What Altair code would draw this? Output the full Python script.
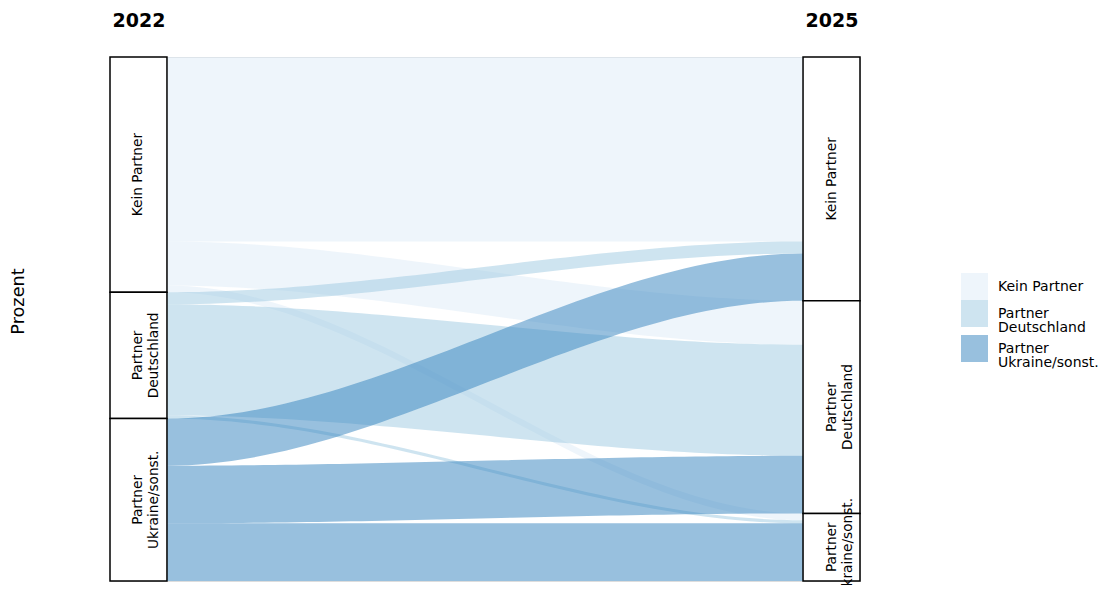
import altair as alt
import numpy as np
import pandas as pd

# ---------------- data ----------------
years = ["2022", "2025"]
categories = ["Kein Partner", "Partner\nDeutschland", "Partner\nUkraine/sonst."]
colors = ["#deebf7", "#9ecae1", "#3182bd"]

# flows (percent of respondents): 2022 group -> 2025 group
flow_src = ["Kein Partner", "Kein Partner", "Kein Partner",
            "Partner\nDeutschland", "Partner\nDeutschland", "Partner\nDeutschland",
            "Partner\nUkraine/sonst.", "Partner\nUkraine/sonst.", "Partner\nUkraine/sonst."]
flow_dst = ["Kein Partner", "Partner\nDeutschland", "Partner\nUkraine/sonst.",
            "Kein Partner", "Partner\nDeutschland", "Partner\nUkraine/sonst.",
            "Kein Partner", "Partner\nDeutschland", "Partner\nUkraine/sonst."]
flow_pct = [35.2, 8.4, 1.3,
            2.3, 21.2, 0.6,
            9.0, 11.0, 11.0]

# ---------------- geometry (alluvial layout) ----------------
w = 0.0411          # half width of a stratum in axis units
N = 60
share = {(s, d): v for s, d, v in zip(flow_src, flow_dst, flow_pct)}

left_pos, right_pos = {}, {}
y = 100.0
for s in categories:
    for d in categories:
        v = share[(s, d)]
        left_pos[(s, d)] = (y, y - v)
        y -= v
y = 100.0
for d in categories:
    for s in categories:
        v = share[(s, d)]
        right_pos[(s, d)] = (y, y - v)
        y -= v

t = np.linspace(0, 1, N)
sm = t * t * (3 - 2 * t)
rows = []
for i, (s, d) in enumerate(zip(flow_src, flow_dst)):
    (lt, lb), (rt, rb) = left_pos[(s, d)], right_pos[(s, d)]
    xs = (1 + w) + t * (1 - 2 * w)
    yt = lt + (rt - lt) * sm
    yb = lb + (rb - lb) * sm
    for xx, a, b in zip(xs, yt, yb):
        rows.append({"flow": i, "source": s, "x": xx, "ytop": a, "ybot": b})
flows_df = pd.DataFrame(rows)

strata = []
for col, key in ((1, 0), (2, 1)):
    y = 100.0
    for c in categories:
        tot = sum(v for (s, d), v in share.items() if (s if key == 0 else d) == c)
        strata.append({"col": col, "x0": col - w, "x1": col + w, "top": y,
                       "bot": y - tot, "mid": y - tot / 2, "label": c})
        y -= tot
strata_df = pd.DataFrame(strata)

x_scale = alt.Scale(domain=[1 - w, 2 + w], nice=False, zero=False)
y_scale = alt.Scale(domain=[0, 100], nice=False, zero=False)

x_axis = alt.Axis(orient="top", values=[1, 2],
                  labelExpr=f"datum.value == 1 ? '{years[0]}' : '{years[1]}'",
                  labelFont="DejaVu Sans", labelFontSize=19, labelFontWeight="bold",
                  labelColor="black", labelPadding=27, labelFlush=False,
                  ticks=False, domain=False, grid=False, title=None)
y_axis = alt.Axis(title="Prozent", labels=False, ticks=False, domain=False,
                  grid=False, titlePadding=83, titleY=244, titleFont="DejaVu Sans",
                  titleFontSize=17.7, titleFontWeight="normal", titleColor="black")

flows = alt.Chart(flows_df).mark_area(opacity=0.5, interpolate="linear").encode(
    x=alt.X("x:Q", scale=x_scale, axis=x_axis),
    y=alt.Y("ytop:Q", scale=y_scale, stack=None, axis=y_axis),
    y2="ybot:Q",
    detail="flow:N",
    color=alt.Color("source:N", scale=alt.Scale(domain=categories, range=colors),
                    legend=alt.Legend(title=None, orient="none", legendX=851, legendY=216,
                                      symbolType="square", symbolSize=729,
                                      symbolOpacity=0.5, symbolStrokeWidth=0,
                                      labelFont="DejaVu Sans", labelFontSize=14,
                                      labelColor="black", labelOffset=10,
                                      labelExpr="split(datum.label, '\\n')",
                                      labelLimit=300, rowPadding=0, padding=0)),
)

boxes = alt.Chart(strata_df).mark_rect(fill="white", stroke="black", strokeWidth=1.5).encode(
    x=alt.X("x0:Q", scale=x_scale, axis=x_axis),
    x2="x1:Q",
    y=alt.Y("top:Q", scale=y_scale, axis=y_axis),
    y2="bot:Q",
)

labels = alt.Chart(strata_df).mark_text(angle=270, lineBreak="\n", baseline="middle",
                                        align="center", font="DejaVu Sans", fontSize=13.7,
                                        lineHeight=16, color="black").encode(
    x=alt.X("col:Q", scale=x_scale, axis=x_axis),
    y=alt.Y("mid:Q", scale=y_scale, axis=y_axis),
    text="label:N",
)

chart = alt.layer(flows, boxes, labels).properties(
    width=750, height=524,
    autosize=alt.AutoSizeParams(type="none"),
    padding={"left": 102, "top": 49, "right": 241, "bottom": 4},
).configure_view(stroke=None).configure(style={"guide-label": {"lineHeight": 14}})

chart.save("out.html", embed_options={"renderer": "svg", "actions": False})
